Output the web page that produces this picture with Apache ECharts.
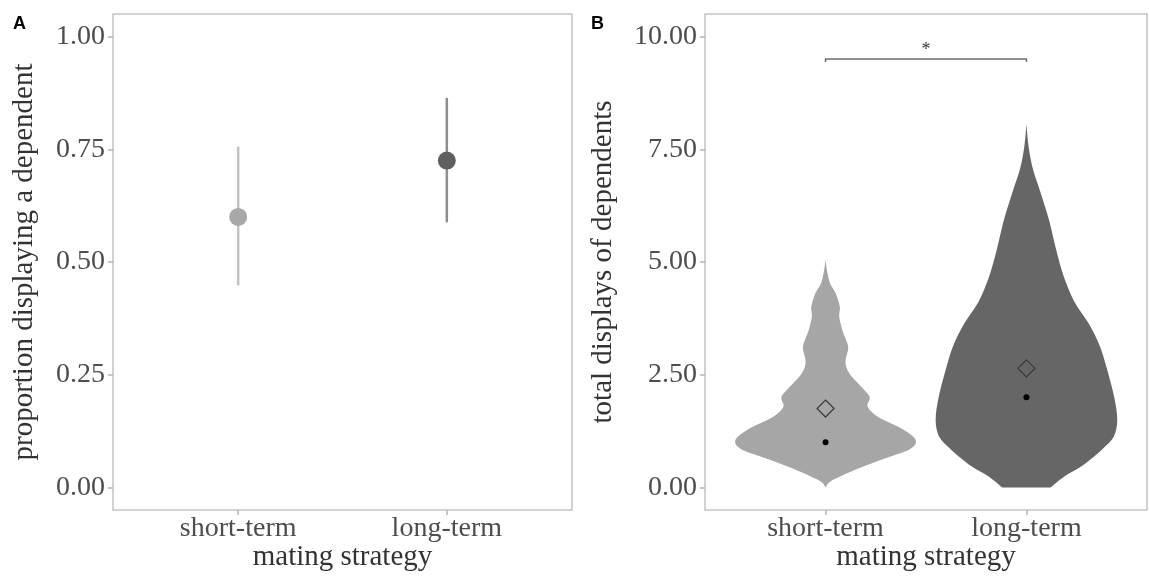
<!DOCTYPE html>
<html>
<head>
<meta charset="utf-8">
<script src="https://cdn.jsdelivr.net/npm/echarts@6/dist/echarts.min.js"></script>
<style>
  html, body { margin: 0; padding: 0; background: #ffffff; }
  #chart { width: 1149px; height: 576px; }
</style>
</head>
<body>
<div id="chart"></div>
<script>
// ---------- data ----------
const categories = ['short-term', 'long-term'];
const xTitle = 'mating strategy';

// Panel A: proportion displaying a dependent (estimate with interval)
const propEstimate = [0.60, 0.725];
const propLower = [0.448, 0.588];
const propUpper = [0.756, 0.864];
const yTicksA = [0, 0.25, 0.5, 0.75, 1];
const yTitleA = 'proportion displaying a dependent';

// Panel B: total displays of dependents (violins, mean diamonds, median dots)
const yTicksB = [0, 2.5, 5, 7.5, 10];
const yTitleB = 'total displays of dependents';
const displaysMean = [1.75, 2.64];
const displaysMedian = [1, 2];
// violin outlines: [value, half-width in category units]
const violinShort = [
  [0, 0], [0.12, 0.02], [0.24, 0.07], [0.46, 0.185], [0.68, 0.32], [0.85, 0.42],
  [1.0, 0.45], [1.15, 0.43], [1.35, 0.36], [1.57, 0.26], [1.79, 0.21], [2.0, 0.22],
  [2.2, 0.185], [2.46, 0.13], [2.65, 0.105], [2.83, 0.10], [3.1, 0.113], [3.3, 0.10],
  [3.5, 0.083], [3.79, 0.068], [4.0, 0.071], [4.31, 0.05], [4.53, 0.022], [4.8, 0.008], [5.05, 0]
];
const violinLong = [
  [0, 0.12], [0.25, 0.19], [0.46, 0.27], [0.7, 0.34], [0.88, 0.385], [1.13, 0.435],
  [1.5, 0.452], [2.02, 0.436], [2.67, 0.398], [3.16, 0.363], [3.64, 0.309], [4.13, 0.237],
  [4.7, 0.184], [5.27, 0.148], [5.92, 0.113], [6.57, 0.068], [7.06, 0.032], [7.55, 0.011], [8.05, 0]
];
// significance bracket
const sigPair = [1, 2];
const sigY = 9.5;
const sigLabel = '*';

// ---------- styles ----------
const fillColors = ['#a6a6a6', '#666666'];
const barColors = ['#c2c2c2', '#8e8e8e'];
const pointColors = ['#a8a8a8', '#606060'];
const serif = 'Liberation Serif';
const labelColor = '#4d4d4d';
const titleColor = '#333333';

function makeXAxis(gridIndex) {
  return {
    type: 'value', gridIndex: gridIndex, min: 0.4, max: 2.6,
    axisLine: { show: false, onZero: false },
    splitLine: { show: false },
    axisTick: { show: true, customValues: [1, 2], length: 5, lineStyle: { color: '#b5b5b5', width: 1.5 } },
    axisLabel: {
      customValues: [1, 2], margin: 5,
      formatter: v => categories[Math.round(v) - 1],
      fontFamily: serif, fontSize: 28, color: labelColor
    },
    name: xTitle, nameLocation: 'middle', nameGap: 33, nameMoveOverlap: false,
    nameTextStyle: { fontFamily: serif, fontSize: 29, color: titleColor }
  };
}
function makeYAxis(gridIndex, min, max, ticks, title, gap) {
  return {
    type: 'value', gridIndex: gridIndex, min: min, max: max,
    axisLine: { show: false, onZero: false },
    splitLine: { show: false },
    axisTick: { show: true, customValues: ticks, length: 5, lineStyle: { color: '#b5b5b5', width: 1.5 } },
    axisLabel: {
      customValues: ticks, margin: 8,
      formatter: v => v.toFixed(2),
      fontFamily: serif, fontSize: 28, color: labelColor
    },
    name: title, nameLocation: 'middle', nameGap: gap, nameRotate: 90, nameMoveOverlap: false,
    nameTextStyle: { fontFamily: serif, fontSize: 29, color: titleColor }
  };
}

const violinProfiles = [violinShort, violinLong];

// smooth open curve through points (Catmull-Rom as cubic Bezier), as SVG path commands
function splineThrough(pts) {
  let d = '';
  for (let i = 0; i < pts.length - 1; i++) {
    const p0 = pts[Math.max(i - 1, 0)], p1 = pts[i], p2 = pts[i + 1], p3 = pts[Math.min(i + 2, pts.length - 1)];
    const c1 = [p1[0] + (p2[0] - p0[0]) / 6, p1[1] + (p2[1] - p0[1]) / 6];
    const c2 = [p2[0] - (p3[0] - p1[0]) / 6, p2[1] - (p3[1] - p1[1]) / 6];
    d += ' C' + c1[0] + ' ' + c1[1] + ' ' + c2[0] + ' ' + c2[1] + ' ' + p2[0] + ' ' + p2[1];
  }
  return d;
}

const option = {
  animation: false,
  backgroundColor: '#ffffff',
  grid: [
    { left: 113, top: 14, width: 459, height: 496, outerBoundsMode: 'none', show: true, borderColor: '#c4c4c4', borderWidth: 1.5, backgroundColor: 'transparent' },
    { left: 705, top: 14, width: 442, height: 496, outerBoundsMode: 'none', show: true, borderColor: '#c4c4c4', borderWidth: 1.5, backgroundColor: 'transparent' }
  ],
  xAxis: [makeXAxis(0), makeXAxis(1)],
  yAxis: [
    makeYAxis(0, -0.05, 1.05, yTicksA, yTitleA, 74),
    makeYAxis(1, -0.5, 10.5, yTicksB, yTitleB, 87)
  ],
  graphic: [
    { type: 'text', left: 13, top: 15, style: { text: 'A', font: 'bold 18px "Liberation Sans"', fill: '#000' } },
    { type: 'text', left: 591, top: 15, style: { text: 'B', font: 'bold 18px "Liberation Sans"', fill: '#000' } }
  ],
  series: [
    // Panel A intervals
    {
      type: 'custom', xAxisIndex: 0, yAxisIndex: 0, z: 2,
      data: categories.map((c, i) => [i + 1, propLower[i], propUpper[i]]),
      renderItem: function (params, api) {
        const i = params.dataIndex;
        const p1 = api.coord([api.value(0), api.value(1)]);
        const p2 = api.coord([api.value(0), api.value(2)]);
        return { type: 'line', shape: { x1: p1[0], y1: p1[1], x2: p2[0], y2: p2[1] },
          style: { stroke: barColors[i], lineWidth: 2.5 } };
      }
    },
    // Panel A points
    {
      type: 'scatter', xAxisIndex: 0, yAxisIndex: 0, z: 3, symbolSize: 18,
      data: categories.map((c, i) => ({ value: [i + 1, propEstimate[i]], itemStyle: { color: pointColors[i], opacity: 1 } }))
    },
    // Panel B violins
    {
      type: 'custom', xAxisIndex: 1, yAxisIndex: 1, z: 2,
      data: categories.map((c, i) => [i + 1]),
      renderItem: function (params, api) {
        const i = params.dataIndex;
        const cx = api.value(0);
        const prof = violinProfiles[i];
        const right = prof.map(p => api.coord([cx + p[1], p[0]]));
        const left = prof.slice().reverse().map(p => api.coord([cx - p[1], p[0]]));
        let d = 'M' + right[0][0] + ' ' + right[0][1] + splineThrough(right);
        d += ' L' + left[0][0] + ' ' + left[0][1] + splineThrough(left) + ' Z';
        return { type: 'path', shape: { pathData: d },
          style: { fill: fillColors[i], stroke: null } };
      }
    },
    // Panel B medians
    {
      type: 'scatter', xAxisIndex: 1, yAxisIndex: 1, z: 4, symbolSize: 6,
      itemStyle: { color: '#000000', opacity: 1 },
      data: categories.map((c, i) => [i + 1, displaysMedian[i]])
    },
    // Panel B means
    {
      type: 'scatter', xAxisIndex: 1, yAxisIndex: 1, z: 4, symbol: 'diamond', symbolSize: [17, 17],
      itemStyle: { color: 'transparent', borderColor: '#3a3a3a', borderWidth: 1.2, opacity: 1 },
      data: categories.map((c, i) => [i + 1, displaysMean[i]])
    },
    // Significance bracket
    {
      type: 'custom', xAxisIndex: 1, yAxisIndex: 1, z: 5,
      data: [[sigPair[0], sigPair[1], sigY]],
      renderItem: function (params, api) {
        const a = api.coord([api.value(0), api.value(2)]);
        const b = api.coord([api.value(1), api.value(2)]);
        return { type: 'group', children: [
          { type: 'polyline', shape: { points: [[a[0], a[1] + 3], a, b, [b[0], b[1] + 3]] },
            style: { stroke: '#6e6e6e', lineWidth: 1.5, fill: null } },
          { type: 'text', x: (a[0] + b[0]) / 2, y: a[1] - 9,
            style: { text: sigLabel, font: '18px "Liberation Serif"', fill: '#333', align: 'center', verticalAlign: 'middle' } }
        ] };
      }
    }
  ]
};

const chart = echarts.init(document.getElementById('chart'), null, { renderer: 'canvas' });
chart.setOption(option);
</script>
</body>
</html>
